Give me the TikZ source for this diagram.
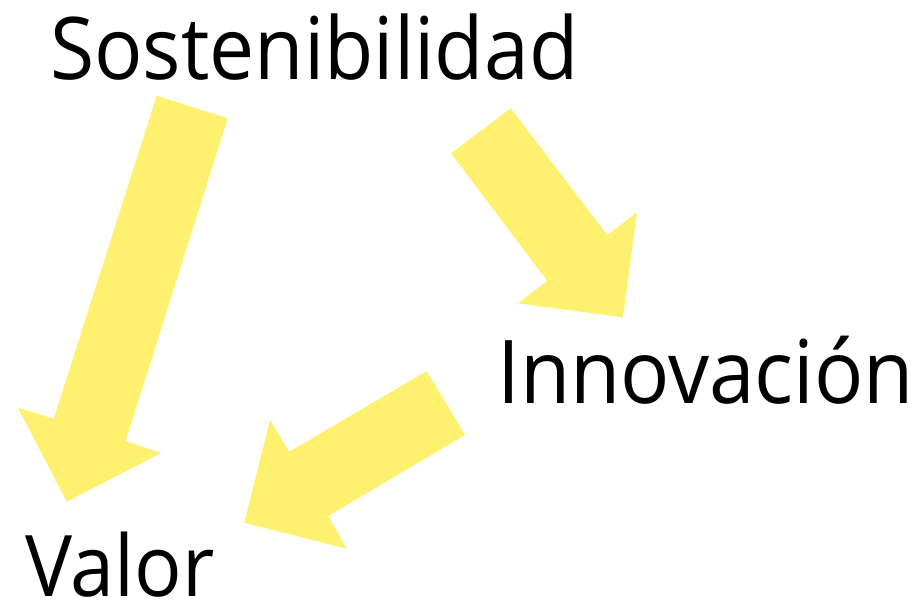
\documentclass[tikz,border=0pt]{standalone}
\usepackage{fontspec}
\setmainfont{Open Sans}[FakeStretch=0.93]
\usepackage{tikz}

\begin{document}
\begin{tikzpicture}[x=1pt,y=1pt,yscale=-1,xscale=1]
\useasboundingbox (0,0) rectangle (923,606);

%Shape: Right Arrow [id:sost-valor] 
\draw [draw opacity=0][fill={rgb, 255:red, 255; green, 241; blue, 112 }  ,fill opacity=1 ]  (156.7,95.7) -- (227.7,118.3) -- (125.7,441) -- (161,453) -- (66.7,501.7) -- (18,407.7) -- (53.7,418.7) -- cycle ;
%Shape: Right Arrow [id:sost-innov] 
\draw [draw opacity=0][fill={rgb, 255:red, 255; green, 241; blue, 112 }  ,fill opacity=1 ]  (510.7,108.3) -- (451,153.3) -- (547.3,281) -- (517.7,303.3) -- (623,317.3) -- (637,212.3) -- (607.3,235) -- cycle ;
%Shape: Right Arrow [id:innov-valor] 
\draw [draw opacity=0][fill={rgb, 255:red, 255; green, 241; blue, 112 }  ,fill opacity=1 ]  (426.7,371) -- (465,435) -- (328.3,516) -- (346.7,548.7) -- (244.3,522.7) -- (270,420) -- (289.3,451.7) -- cycle ;

% Text Node
\draw (50,79) node [anchor=base west,inner sep=0] (sost) {\fontsize{86.5}{100}\selectfont Sostenibilidad};
% Text Node
\draw (497,403) node [anchor=base west,inner sep=0] (innov) {\fontsize{88}{100}\selectfont Innovación};
% Text Node
\draw (25,596) node [anchor=base west,inner sep=0] (valor) {\fontsize{85}{100}\selectfont Valor};

\end{tikzpicture}
\end{document}
